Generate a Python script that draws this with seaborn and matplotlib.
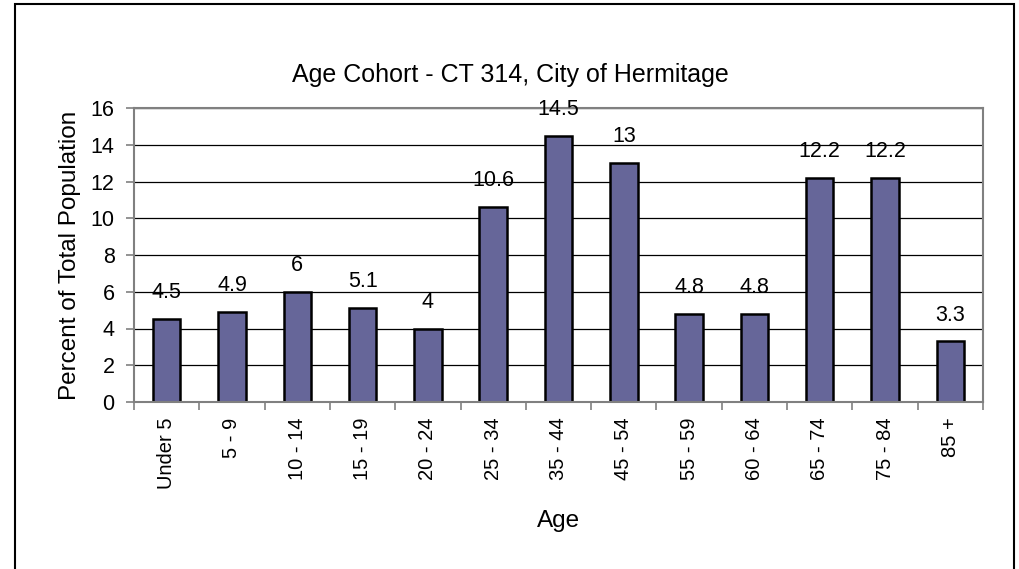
import matplotlib
matplotlib.use('Agg')
import matplotlib.pyplot as plt
from matplotlib.patches import Rectangle
from matplotlib.ticker import MultipleLocator
import pandas as pd
import seaborn as sns

# Dati
age_groups = ['Under 5', '5 - 9', '10 - 14', '15 - 19', '20 - 24', '25 - 34', '35 - 44',
              '45 - 54', '55 - 59', '60 - 64', '65 - 74', '75 - 84', '85 +']
percent = [4.5, 4.9, 6, 5.1, 4, 10.6, 14.5, 13, 4.8, 4.8, 12.2, 12.2, 3.3]
value_labels = ['4.5', '4.9', '6', '5.1', '4', '10.6', '14.5', '13', '4.8', '4.8', '12.2', '12.2', '3.3']

df = pd.DataFrame({'Age': age_groups, 'Percent': percent})

sns.set_style('white')
plt.rcParams['font.family'] = ['Liberation Sans', 'DejaVu Sans']
plt.rcParams['text.color'] = 'black'
plt.rcParams['axes.labelcolor'] = 'black'

fig = plt.figure(figsize=(10.2, 5.69), dpi=100)
ax = fig.add_axes([134 / 1020, 1 - 402 / 569, (983 - 134) / 1020, (402 - 108) / 569])

sns.barplot(data=df, x='Age', y='Percent', color='#666699', edgecolor='black',
            linewidth=1.8, width=0.42, saturation=1, ax=ax)

# etichette sopra le barre
for i, (v, lab) in enumerate(zip(percent, value_labels)):
    ax.annotate(lab, (i, v), xytext=(0, 15), textcoords='offset points',
                ha='center', va='baseline', fontsize=15.5)

ax.set_ylim(0, 16)
ax.set_xlim(-0.5, len(age_groups) - 0.5)
ax.yaxis.set_major_locator(MultipleLocator(2))
ax.grid(axis='y', color='black', linewidth=0.9)
ax.set_axisbelow(True)

for side in ['top', 'right', 'left', 'bottom']:
    ax.spines[side].set_color('#808080')
    ax.spines[side].set_linewidth(1.5)

ax.tick_params(axis='y', direction='out', length=6, width=1.2, color='#808080',
               left=True, labelsize=15.5, pad=8, labelcolor='black')
ax.tick_params(axis='x', which='major', length=0, labelsize=14.5, pad=11,
               labelrotation=90, labelcolor='black')
ax.set_xticks([i - 0.5 for i in range(len(age_groups) + 1)], minor=True)
ax.tick_params(axis='x', which='minor', direction='out', length=6, width=1.2,
               color='#808080', bottom=True)

ax.set_xlabel('Age', fontsize=17.5, labelpad=15)
ax.set_ylabel('Percent of Total Population', fontsize=17.5, labelpad=7)
fig.text(0.5, 1 - 75 / 569, 'Age Cohort - CT 314, City of Hermitage',
         ha='center', va='center', fontsize=18)

# bordo del grafico
fig.patches.append(Rectangle((15 / 1020, -0.05), (1014 - 15) / 1020, 1.05 - 4 / 569,
                             transform=fig.transFigure, fill=False,
                             edgecolor='black', linewidth=1.5))

fig.savefig('out.png', dpi=100)
